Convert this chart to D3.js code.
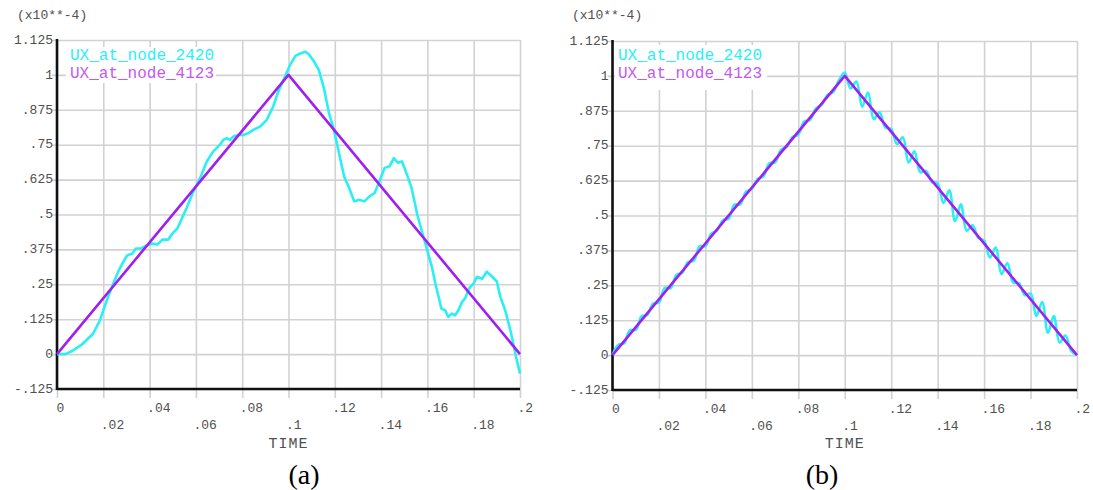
<!DOCTYPE html>
<html>
<head>
<meta charset="utf-8">
<script src="https://cdn.jsdelivr.net/npm/d3@7"></script>
<style>
  html, body { margin: 0; padding: 0; background: #ffffff; }
  svg { display: block; }
</style>
</head>
<body>
<svg id="chart" width="1093" height="490"></svg>
<script>
// ---------------- DATA ----------------
const xTicks = [0, 0.02, 0.04, 0.06, 0.08, 0.1, 0.12, 0.14, 0.16, 0.18, 0.2];
const xTickLabels = ["0", ".02", ".04", ".06", ".08", ".1", ".12", ".14", ".16", ".18", ".2"];
const yTicks = [-0.125, 0, 0.125, 0.25, 0.375, 0.5, 0.625, 0.75, 0.875, 1, 1.125];
const yTickLabels = ["-.125", "0", ".125", ".25", ".375", ".5", ".625", ".75", ".875", "1", "1.125"];
const seriesNames = ["UX_at_node_2420", "UX_at_node_4123"];
const scaleLabel = "(x10**-4)";
const xTitle = "TIME";
const panelLabels = ["(a)", "(b)"];

// node 4123 (both panels): triangular load
const timeNode4123 = [0, 0.1, 0.2];
const uxNode4123 = [0, 1, 0];

// panel (a) node 2420
const timeA2420 = [0, 0.0037, 0.0067, 0.011, 0.0155, 0.0185, 0.0207, 0.0237, 0.0267, 0.029,
  0.0304, 0.0326, 0.034, 0.036, 0.039, 0.041, 0.0435, 0.0455, 0.048, 0.050,
  0.052, 0.054, 0.056, 0.0589, 0.0618, 0.0647, 0.0675, 0.0704, 0.0718, 0.0733,
  0.0747, 0.0762, 0.0783, 0.0805, 0.0826, 0.0848, 0.0877, 0.0906, 0.0934, 0.0956,
  0.0985, 0.1007, 0.103, 0.1051, 0.1073, 0.1088, 0.111, 0.1131, 0.1153, 0.1175,
  0.1196, 0.1218, 0.124, 0.1262, 0.1284, 0.1305, 0.1328, 0.135, 0.1372, 0.1393,
  0.1415, 0.1437, 0.1455, 0.1473, 0.149, 0.1509, 0.153, 0.1546, 0.1556, 0.1576,
  0.159, 0.16, 0.162, 0.1635, 0.165, 0.166, 0.1677, 0.169, 0.1705, 0.172,
  0.1734, 0.175, 0.1763, 0.178, 0.18, 0.1814, 0.1836, 0.1857, 0.188, 0.19,
  0.1915, 0.1936, 0.196, 0.198, 0.2];
const uxA2420 = [0, 0, 0.012, 0.036, 0.072, 0.12, 0.174, 0.24, 0.30, 0.336,
  0.354, 0.36, 0.378, 0.378, 0.39, 0.396, 0.393, 0.41, 0.41, 0.433,
  0.45, 0.487, 0.523, 0.582, 0.63, 0.69, 0.726, 0.75, 0.767, 0.773,
  0.767, 0.779, 0.785, 0.785, 0.791, 0.803, 0.815, 0.839, 0.887, 0.941,
  0.994, 1.036, 1.068, 1.077, 1.083, 1.074, 1.048, 1.018, 0.952, 0.863,
  0.804, 0.72, 0.637, 0.595, 0.547, 0.553, 0.547, 0.565, 0.577, 0.619,
  0.667, 0.673, 0.702, 0.685, 0.69, 0.649, 0.6, 0.54, 0.5, 0.44,
  0.4, 0.37, 0.31, 0.25, 0.2, 0.163, 0.157, 0.133, 0.145, 0.139,
  0.157, 0.187, 0.2, 0.235, 0.253, 0.277, 0.27, 0.295, 0.277, 0.26,
  0.205, 0.157, 0.08, 0.001, -0.07];

// panel (b) node 2420
const timeB2420 = [0, 0.0025, 0.005, 0.0075, 0.01, 0.0125, 0.015, 0.0175, 0.02, 0.0225,
  0.025, 0.0275, 0.03, 0.0325, 0.035, 0.0375, 0.04, 0.0425, 0.045, 0.0475,
  0.05, 0.0525, 0.055, 0.0575, 0.06, 0.0625, 0.065, 0.0675, 0.07, 0.0725,
  0.075, 0.0775, 0.08, 0.0825, 0.085, 0.0875, 0.09, 0.0925, 0.095, 0.0975,
  0.1, 0.1025, 0.105, 0.1075, 0.11, 0.1125, 0.115, 0.1175, 0.12, 0.1225,
  0.125, 0.1275, 0.13, 0.1325, 0.135, 0.1375, 0.14, 0.1425, 0.145, 0.1475,
  0.15, 0.1525, 0.155, 0.1575, 0.16, 0.1625, 0.165, 0.1675, 0.17, 0.1725,
  0.175, 0.1775, 0.18, 0.1825, 0.185, 0.1875, 0.19, 0.1925, 0.195, 0.1975, 0.2];
const uxB2420 = [0, 0.037, 0.042, 0.09, 0.09, 0.139, 0.144, 0.185, 0.188, 0.241,
  0.24, 0.287, 0.295, 0.333, 0.338, 0.39, 0.39, 0.435, 0.446, 0.483,
  0.488, 0.539, 0.54, 0.585, 0.596, 0.631, 0.64, 0.687, 0.69, 0.735,
  0.746, 0.781, 0.79, 0.837, 0.842, 0.883, 0.896, 0.931, 0.942, 0.985,
  1.012, 0.955, 0.98, 0.89, 0.94, 0.845, 0.87, 0.815, 0.81, 0.755,
  0.78, 0.69, 0.73, 0.655, 0.66, 0.62, 0.615, 0.545, 0.59, 0.48,
  0.54, 0.445, 0.465, 0.42, 0.41, 0.35, 0.385, 0.29, 0.33, 0.26,
  0.258, 0.215, 0.22, 0.14, 0.19, 0.08, 0.14, 0.045, 0.07, 0.015, 0];

// ---------------- DRAW ----------------
const svg = d3.select("#chart");
const CYAN = "#2af0f5";
const PURPLE = "#a01ff0";
const LEGEND_PURPLE = "#c458f0";
const GRID = "#d2d2d2";
const TEXT = "#505050";
const MONO = "'Liberation Mono', 'DejaVu Sans Mono', monospace";

const panels = [
  { x0: 57, x1: 520, y0: 40, y1: 389, legendX: 70, mask: [66, 47, 150, 36],
    cyanT: timeA2420, cyanV: uxA2420, curve: d3.curveLinear, label: panelLabels[0], labelX: 304, scaleX: 17 },
  { x0: 612.5, x1: 1077, y0: 41, y1: 390, legendX: 618, mask: [615, 45, 152, 45],
    cyanT: timeB2420, cyanV: uxB2420, curve: d3.curveCatmullRom, label: panelLabels[1], labelX: 822, scaleX: 572 }
];

panels.forEach(p => {
  const x = d3.scaleLinear().domain([0, 0.2]).range([p.x0, p.x1]);
  const y = d3.scaleLinear().domain([-0.125, 1.125]).range([p.y1, p.y0]);
  const w = p.x1 - p.x0, h = p.y1 - p.y0;
  const g = svg.append("g");

  // vertical grid + x labels
  const xAx = g.append("g")
    .attr("transform", `translate(0,${p.y1 + 9})`)
    .call(d3.axisBottom(x).tickValues(xTicks).tickFormat((d, i) => xTickLabels[i])
      .tickSize(-(h + 9)).tickSizeOuter(0));
  xAx.select(".domain").remove();
  xAx.selectAll("line").attr("stroke", GRID).attr("stroke-width", 1.6);
  xAx.selectAll("text")
    .attr("fill", TEXT).attr("font-family", MONO).attr("font-size", 13)
    .attr("text-anchor", "start")
    .attr("x", (d, i) => i === 0 ? -1 : -3)
    .attr("y", (d, i) => i % 2 === 0 ? 14 : 31)
    .attr("dy", 0);

  // horizontal grid + y labels
  const yAx = g.append("g")
    .attr("transform", `translate(${p.x0 - 5},0)`)
    .call(d3.axisLeft(y).tickValues(yTicks).tickFormat((d, i) => yTickLabels[i])
      .tickSize(-(w + 5)).tickSizeOuter(0).tickPadding(0));
  yAx.select(".domain").remove();
  yAx.selectAll("line").attr("stroke", GRID).attr("stroke-width", 1.6);
  yAx.selectAll("text")
    .attr("fill", TEXT).attr("font-family", MONO).attr("font-size", 13)
    .attr("text-anchor", "end").attr("x", 1).attr("dy", "0.25em");

  // legend mask
  g.append("rect")
    .attr("x", p.mask[0]).attr("y", p.mask[1])
    .attr("width", p.mask[2]).attr("height", p.mask[3])
    .attr("fill", "#ffffff");

  // main axes (left and bottom)
  g.append("line").attr("x1", p.x0).attr("x2", p.x0).attr("y1", p.y0 - 1).attr("y2", p.y1 + 1)
    .attr("stroke", "#111").attr("stroke-width", 2.6);
  g.append("line").attr("x1", p.x0).attr("x2", p.x1).attr("y1", p.y1).attr("y2", p.y1)
    .attr("stroke", "#111").attr("stroke-width", 2.6);

  // series
  const cyanData = p.cyanT.map((t, i) => [t, p.cyanV[i]]);
  const purpleData = timeNode4123.map((t, i) => [t, uxNode4123[i]]);
  const line = d3.line().x(d => x(d[0])).y(d => y(d[1]));
  g.append("path").datum(cyanData)
    .attr("d", line.curve(p.curve)).attr("fill", "none")
    .attr("stroke", CYAN).attr("stroke-width", 2.6).attr("stroke-linejoin", "round");
  g.append("path").datum(purpleData)
    .attr("d", d3.line().x(d => x(d[0])).y(d => y(d[1]))).attr("fill", "none")
    .attr("stroke", PURPLE).attr("stroke-width", 2.6).attr("stroke-linejoin", "round");

  // legend
  g.append("text").attr("x", p.legendX).attr("y", 60)
    .attr("font-family", MONO).attr("font-size", 16).attr("fill", CYAN).text(seriesNames[0]);
  g.append("text").attr("x", p.legendX).attr("y", 78)
    .attr("font-family", MONO).attr("font-size", 16).attr("fill", LEGEND_PURPLE).text(seriesNames[1]);

  // scale factor label
  g.append("text").attr("x", p.scaleX).attr("y", 19)
    .attr("font-family", MONO).attr("font-size", 13).attr("fill", TEXT).text(scaleLabel);

  // x title
  g.append("text").attr("x", x(0.1)).attr("y", 448)
    .attr("text-anchor", "middle").attr("font-family", MONO).attr("font-size", 15)
    .attr("letter-spacing", 1).attr("fill", TEXT).text(xTitle);

  // panel label
  g.append("text").attr("x", p.labelX).attr("y", 484)
    .attr("text-anchor", "middle").attr("font-family", "'Liberation Serif', 'Times New Roman', serif")
    .attr("font-size", 28).attr("fill", "#000").text(p.label);
});
</script>
</body>
</html>
